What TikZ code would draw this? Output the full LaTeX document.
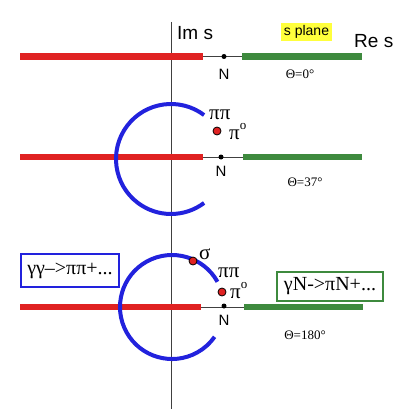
\documentclass[tikz,border=0pt]{standalone}
\usepackage{fontspec}
\setmainfont{Liberation Serif}
\newfontfamily\sansf{Liberation Sans}
\definecolor{cutred}{HTML}{E02222}
\definecolor{cutgreen}{HTML}{3E8A3E}
\definecolor{arcblue}{HTML}{2222DD}
\definecolor{splane}{HTML}{FFFF3C}
\newcommand{\pizero}{π\raisebox{0.45em}{\fontsize{13}{13}\selectfont o}}
\begin{document}
\begin{tikzpicture}[x=1pt,y=-1pt,
  redcut/.style={cutred,line width=6.5pt},
  greencut/.style={cutgreen,line width=6.5pt},
  thinline/.style={black!75,line width=1pt},
  arcline/.style={arcblue,line width=4pt},
  ndot/.style={circle,fill=black,inner sep=0pt,minimum size=5pt},
  pole/.style={circle,fill=cutred,draw=black,line width=0.8pt,inner sep=0pt,minimum size=8pt},
  lab/.style={inner sep=0pt,font=\sansf\fontsize{15}{15}\selectfont},
  biglab/.style={inner sep=0pt,font=\sansf\fontsize{19}{19}\selectfont},
  theta/.style={inner sep=0pt,font=\fontsize{13}{13}\selectfont},
  greek/.style={inner sep=0pt,font=\fontsize{21}{21}\selectfont},
  procbox/.style={draw,line width=1.5pt,inner sep=3pt,font=\fontsize{20}{20}\selectfont}]
\useasboundingbox (0,0) rectangle (415,417);
% vertical axis
\coordinate (axtop) at (171,22);
\coordinate (axbot) at (171,409);
\draw[thinline] (axtop) -- (axbot);
% labels top
\node[biglab,anchor=base west] (ims) at (177,40) {Im s};
\node[biglab,anchor=base west] (res) at (354,48) {Re s};
\node[fill=splane,inner sep=2.5pt,font=\sansf\fontsize{14}{14}\selectfont] (sp) at (306.5,32) {s plane};

% ---------- row 1 ----------
\coordinate (r1a) at (20,56.5);
\coordinate (r1b) at (203,56.5);
\coordinate (r1c) at (242,56.5);
\coordinate (r1d) at (362,56.5);
\draw[thinline] (r1b) -- (r1c);
\draw[redcut] (r1a) -- (r1b);
\draw[greencut] (r1c) -- (r1d);
\node[ndot] (n1) at (224,56.5) {};
\node[lab] (n1l) at (224,74) {N};
\node[theta] (t1) at (300,74) {Θ=0°};

% ---------- row 2 ----------
\coordinate (r2a) at (20,157);
\coordinate (r2b) at (203,157);
\coordinate (r2c) at (243,157);
\coordinate (r2d) at (362,157);
\draw[thinline] (r2b) -- (r2c);
\draw[redcut] (r2a) -- (r2b);
\draw[greencut] (r2c) -- (r2d);
\coordinate (c2) at (171,159);
\draw[arcline] (c2) ++(-53:55) arc[start angle=-53,end angle=-307,radius=55];
\node[ndot] (n2) at (221,157) {};
\node[lab] (n2l) at (221,171) {N};
\node[pole] (p2) at (217,131) {};
\node[greek,anchor=base west] (pp2) at (209,119) {ππ};
\node[greek,anchor=base west] (pi2) at (229,139) {\pizero};
\node[theta] (t2) at (305,182) {Θ=37°};

% ---------- row 3 ----------
\coordinate (r3a) at (20,307);
\coordinate (r3b) at (201,307);
\coordinate (r3c) at (244,307);
\coordinate (r3d) at (363,307);
\draw[thinline] (r3b) -- (r3c);
\draw[redcut] (r3a) -- (r3b);
\draw[greencut] (r3c) -- (r3d);
\coordinate (c3) at (172,307);
\draw[arcline] (c3) ++(-29:52) arc[start angle=-29,end angle=-325,radius=52];
\node[ndot] (n3) at (224,306) {};
\node[lab] (n3l) at (224,320) {N};
\node[pole] (s3) at (193,261) {};
\node[greek,anchor=base west] (sig) at (199,259) {σ};
\node[greek,anchor=base west] (pp3) at (218,277) {ππ};
\node[pole] (p3) at (222,292) {};
\node[greek,anchor=base west] (pi3) at (230,298) {\pizero};
\node[theta] (t3) at (305,335) {Θ=180°};
\node[procbox,draw=arcblue,minimum width=98pt,minimum height=33pt] (bx1) at (70,270.5) {γγ–>ππ+...};
\node[procbox,draw=cutgreen,minimum width=106pt,minimum height=29pt] (bx2) at (330,286.5) {γN->πN+...};
\end{tikzpicture}
\end{document}
